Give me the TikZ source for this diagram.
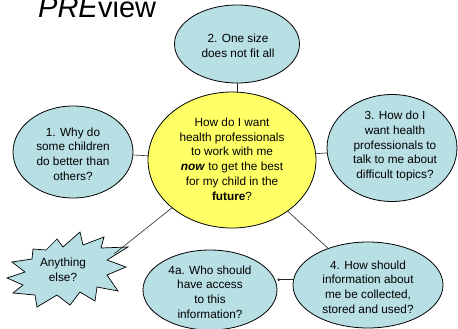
\documentclass[tikz,border=0pt]{standalone}
\usepackage{fontspec}
\setmainfont{Liberation Sans}
\usetikzlibrary{shapes.geometric,arrows.meta}
\definecolor{bubbleblue}{RGB}{184,223,228}
\definecolor{hubyellow}{RGB}{255,255,102}
\begin{document}
\begin{tikzpicture}[x=1pt,y=-1pt,
  bubble/.style={ellipse,draw=black,line width=0.8pt,fill=bubbleblue,inner sep=0pt},
  hub/.style={ellipse,draw=black,line width=0.8pt,fill=hubyellow,inner sep=0pt},
  txt/.style={align=center,inner sep=0pt,font=\fontsize{11.8}{14.8}\selectfont},
  link/.style={draw=black!85,line width=0.6pt}]
\useasboundingbox (0,0) rectangle (458,329);

% title
\node[anchor=base west,inner sep=0pt] (title) at (38,18)
  {\fontsize{29}{29}\selectfont\textit{PRE}view};

% bubbles
\node[hub,minimum width=168pt,minimum height=136pt] (c) at (232,160) {};
\node[bubble,minimum width=125pt,minimum height=78pt] (e2) at (237,44) {};
\node[bubble,minimum width=120pt,minimum height=92pt] (e1) at (73,152) {};
\node[bubble,minimum width=130pt,minimum height=107pt] (e3) at (392,148) {};
\node[bubble,minimum width=150pt,minimum height=86pt] (e4) at (368,285) {};
\node[bubble,minimum width=134pt,minimum height=80pt] (e4a) at (210,290) {};

% starburst
\filldraw[fill=bubbleblue,draw=black,line width=0.7pt,line join=miter]
  (7,278) -- (25,272) -- (12,262) -- (32,259) -- (33,249) -- (46,250)
  -- (57,239) -- (63,247) -- (80,232) -- (83,245) -- (104,237) -- (101,248)
  -- (128,247) -- (107,260) -- (126,267) -- (107,275) -- (118,291)
  -- (97,287) -- (95,301) -- (80,292) -- (70,305) -- (57,295) -- (37,307)
  -- (35,295) -- (13,293) -- (23,285) -- cycle;
\coordinate (sbend) at (114,254);

% texts
\node[txt] (tc) at (232,159) {How do I want\\health professionals\\to work with me\\\textbf{\textit{now}} to get the best\\for my child in the\\\textbf{future}?};
\node[txt] (t2) at (238,46) {2. One size\\does not fit all};
\node[txt] (t1) at (73,154) {1. Why do\\some children\\do better than\\others?};
\node[txt] (t3) at (395,146) {3. How do I\\want health\\professionals to\\talk to me about\\difficult topics?};
\node[txt] (t4) at (368,287) {4. How should\\information about\\me be collected,\\stored and used?};
\node[txt] (t4a) at (210,292) {4a. Who should\\have access\\to this\\information?};
\node[txt] (tsb) at (63,270) {Anything\\else?};

% connectors
\draw[link] (e2.south) -- (e2.south |- c.north);
\draw[link] (c) -- (e1);
\draw[link] (c) -- (e3);
\draw[link] (c) -- (e4);
\draw[link] (c) -- (sbend);
\draw[link,-{Circle[length=2.5pt]}] (e4.176) -- (e4.176 -| e4a.east);
\end{tikzpicture}
\end{document}
